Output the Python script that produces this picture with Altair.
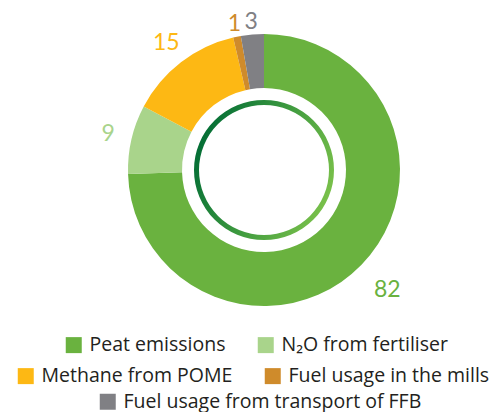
import math
import altair as alt
import pandas as pd

# ---- data ----
categories = [
    "Peat emissions",
    "N₂O from fertiliser",
    "Methane from POME",
    "Fuel usage in the mills",
    "Fuel usage from transport of FFB",
]
values = [82, 9, 15, 1, 3]
slice_colors = ["#6ab23f", "#a9d48b", "#fdb814", "#cf8b2b", "#808084"]
legend_row = [0, 0, 1, 1, 2]

total = sum(values)

df = pd.DataFrame(
    {
        "category": categories,
        "value": values,
        "order": list(range(len(categories))),
        "row": legend_row,
    }
)

FONT = "Open Sans"
R_OUT, R_IN = 136, 82

base = (
    alt.Chart(df)
    .transform_window(cum="sum(value)", sort=[alt.SortField("order")], frame=[None, 0])
    .transform_calculate(start="datum.cum - datum.value", mid="datum.cum - datum.value / 2")
)

theta_scale = alt.Scale(domain=[0, total])

# legend placement per row (layout only)
legend_pos = {0: (20, 327), 1: (-28, 358), 2: (54, 384)}


def arc_layer(row):
    idx = [i for i, r in enumerate(legend_row) if r == row]
    lx, ly = legend_pos[row]
    return (
        base.transform_filter(alt.datum.row == row)
        .mark_arc(innerRadius=R_IN, outerRadius=R_OUT)
        .encode(
            theta=alt.Theta("start:Q", scale=theta_scale),
            theta2="cum:Q",
            color=alt.Color(
                "category:N",
                scale=alt.Scale(
                    domain=[categories[i] for i in idx],
                    range=[slice_colors[i] for i in idx],
                ),
                legend=alt.Legend(
                    orient="none",
                    legendX=lx,
                    legendY=ly,
                    direction="horizontal",
                    title=None,
                ),
            ),
        )
    )


arcs = [arc_layer(r) for r in sorted(set(legend_row))]

labels = base.mark_text(
    fontSize=23,
    font="Lato",
    radius=alt.expr("datum.value <= 3 ? 149 : (datum.value >= 50 ? 172 : 160)"),
).encode(
    theta=alt.Theta("mid:Q", scale=theta_scale),
    text="value:Q",
    color=alt.Color(
        "category:N",
        scale=alt.Scale(domain=categories, range=slice_colors),
        legend=None,
    ),
)

ring = (
    alt.Chart(pd.DataFrame({"ring": [1]}))
    .mark_arc(
        innerRadius=65,
        outerRadius=70,
        theta=0,
        theta2=2 * math.pi,
        color=alt.LinearGradient(
            gradient="linear",
            stops=[
                alt.GradientStop(color="#006b35", offset=0),
                alt.GradientStop(color="#3e9a3f", offset=0.5),
                alt.GradientStop(color="#7dc34b", offset=1),
            ],
            x1=0,
            y1=0.3,
            x2=1,
            y2=0.7,
        ),
    )
    .encode(opacity=alt.value(1))
)

chart = (
    alt.layer(*arcs, labels, ring)
    .resolve_scale(color="independent")
    .properties(
        width=440,
        height=324,
        padding={"left": 36, "top": 0, "right": 7, "bottom": 80},
        autosize="none",
    )
    .configure_view(stroke=None)
    .configure_legend(
        labelFont=FONT,
        labelFontSize=19.5,
        labelColor="#231f20",
        symbolType="square",
        symbolSize=256,
        symbolStrokeWidth=0,
        symbolOpacity=1,
        labelOffset=6,
        columnPadding=30,
        labelLimit=400,
    )
)

chart.save("out.html", embed_options={"renderer": "svg", "actions": False})
